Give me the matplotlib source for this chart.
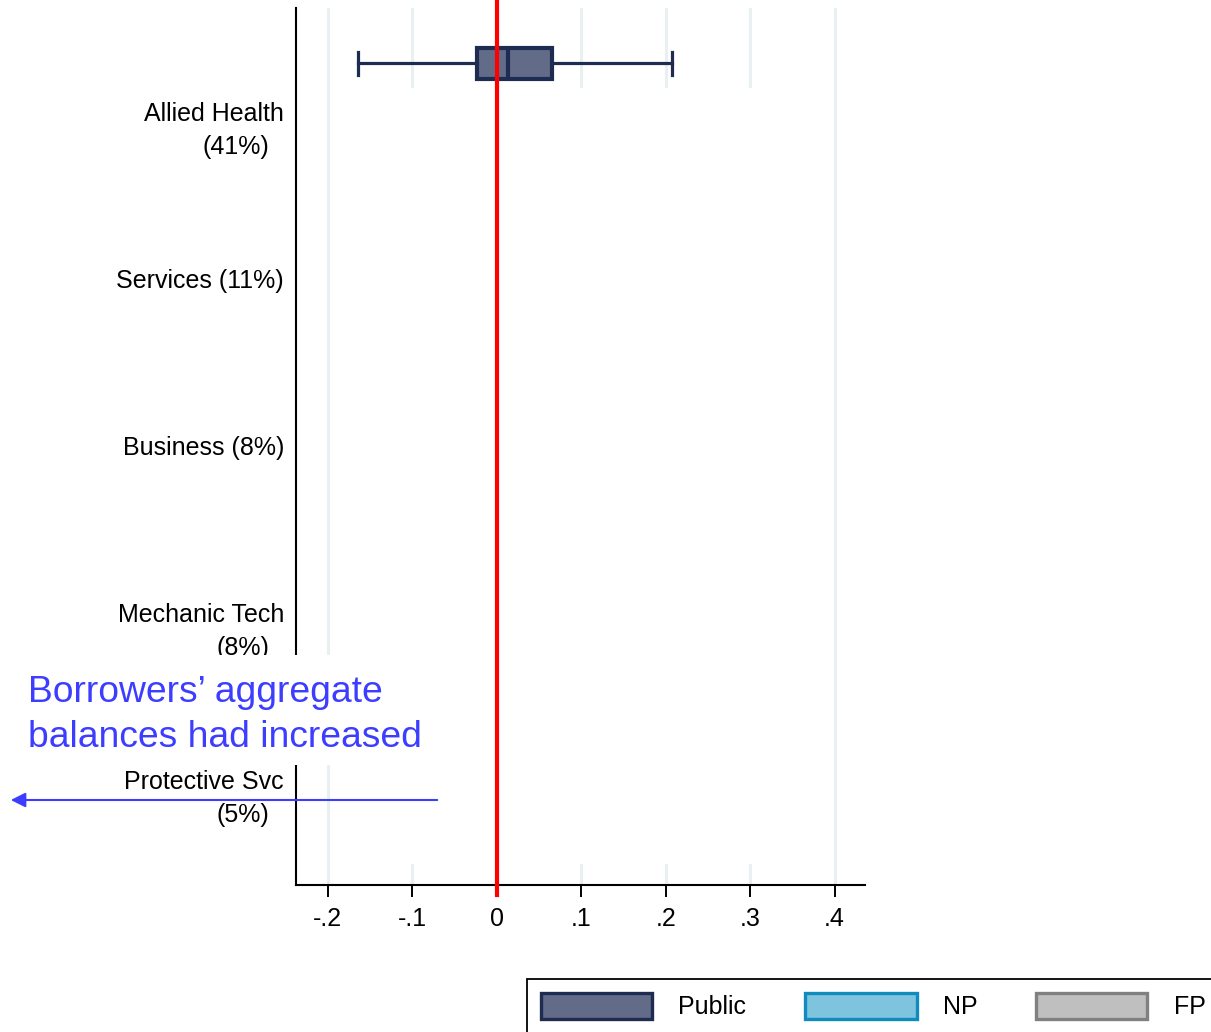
import matplotlib
matplotlib.use("Agg")
import matplotlib.pyplot as plt
from matplotlib.patches import Patch, Rectangle, FancyArrowPatch

plt.rcParams["font.family"] = ["Liberation Sans", "DejaVu Sans"]

# categories (top to bottom) and their two-line labels
CATEGORIES = ["Allied Health", "Services (11%)", "Business (8%)", "Mechanic Tech", "Protective Svc"]
SUBLABELS = ["(41%)", "", "", "(8%)", "(5%)"]

# only visible box: Allied Health, Public
PUBLIC_STATS = {
    "whislo": -0.1645,
    "q1": -0.0233,
    "med": 0.0137,
    "q3": 0.0658,
    "whishi": 0.2071,
}

XTICKS = [-0.2, -0.1, 0.0, 0.1, 0.2, 0.3, 0.4]
XTICK_LABELS = ["-.2", "-.1", "0", ".1", ".2", ".3", ".4"]

LEGEND_LABELS = ["Public", "NP", "FP"]
LEGEND_FACE = ["#626b88", "#7fc4df", "#bfbfbf"]
LEGEND_EDGE = ["#1f2c52", "#0f8bbd", "#808080"]

NAVY = "#1f2c52"
BLUE = "#3d3dff"

W, H = 1211, 1032
fig = plt.figure(figsize=(W / 100, H / 100), dpi=100)
ax = fig.add_axes([296 / W, 1 - 885 / H, (865 - 296) / W, (885 - 8) / H])

px = 1 / 167.0  # data units per pixel on the y axis
ax.set_xlim(-0.2375, 0.4359)
ax.set_ylim(4.617, -0.635)

box = dict(PUBLIC_STATS, label="")
ax.bxp(
    [box],
    positions=[-51 * px],
    widths=31 * px,
    capwidths=23 * px,
    orientation="horizontal",
    showfliers=False,
    patch_artist=True,
    boxprops=dict(facecolor=LEGEND_FACE[0], edgecolor=NAVY, linewidth=3),
    medianprops=dict(color=NAVY, linewidth=3),
    whiskerprops=dict(color=NAVY, linewidth=2.3),
    capprops=dict(color=NAVY, linewidth=2.3),
    zorder=2,
)

ax.set_axisbelow(True)
ax.grid(axis="x", color="#e8f0f2", linewidth=2.2)
ax.grid(axis="y", visible=False)

# white cover over the hidden boxes
ax.add_patch(Rectangle((-0.186, -26 * px), 0.186 + 0.36, (864 - 88) * px,
                       facecolor="white", edgecolor="none", zorder=1))

ax.axvline(0, ymin=-10 / 877, ymax=1.02, color="red", linewidth=3, zorder=3, clip_on=False)

ax.set_xticks(XTICKS)
ax.set_xticklabels(XTICK_LABELS, fontsize=18)
ax.set_yticks([])
ax.tick_params(axis="x", direction="out", length=8.6, width=1.4, pad=7.5)
for side in ["top", "right"]:
    ax.spines[side].set_visible(False)
for side in ["left", "bottom"]:
    ax.spines[side].set_linewidth(1.5)

ytrans = ax.get_yaxis_transform()
for i, (lab, sub) in enumerate(zip(CATEGORIES, SUBLABELS)):
    ax.text(-12 / 569, i, lab, transform=ytrans, ha="right", va="center", fontsize=18)
    if sub:
        ax.text(-27 / 569, i + 33 * px, sub, transform=ytrans, ha="right", va="center", fontsize=18)

# annotation with white background
fig.add_artist(Rectangle((0, 1 - 765 / H), 460 / W, 110 / H, transform=fig.transFigure,
                         facecolor="white", edgecolor="none", zorder=1))
fig.text(28 / W, 1 - 715 / H, "Borrowers\u2019 aggregate\nbalances had increased",
         color=BLUE, fontsize=26.8, ha="left", va="center", linespacing=1.38, zorder=3)
fig.add_artist(FancyArrowPatch((440 / W, 1 - 800 / H), (8 / W, 1 - 800 / H),
                               transform=fig.transFigure, arrowstyle="-|>",
                               mutation_scale=22, color=BLUE, linewidth=1.5, zorder=3))

handles = [Patch(facecolor=f, edgecolor=e, linewidth=2.4) for f, e in zip(LEGEND_FACE, LEGEND_EDGE)]
leg = fig.legend(handles, LEGEND_LABELS, loc="upper left", bbox_to_anchor=(527 / W, 1 - 979 / H),
                 ncol=3, frameon=True, fancybox=False, edgecolor="black", framealpha=1,
                 fontsize=18, handlelength=4.46, handleheight=1.26, handletextpad=1.05,
                 columnspacing=2.34, borderpad=0.55, borderaxespad=0)
leg.get_frame().set_linewidth(1.3)

fig.savefig("out.png", dpi=100)
